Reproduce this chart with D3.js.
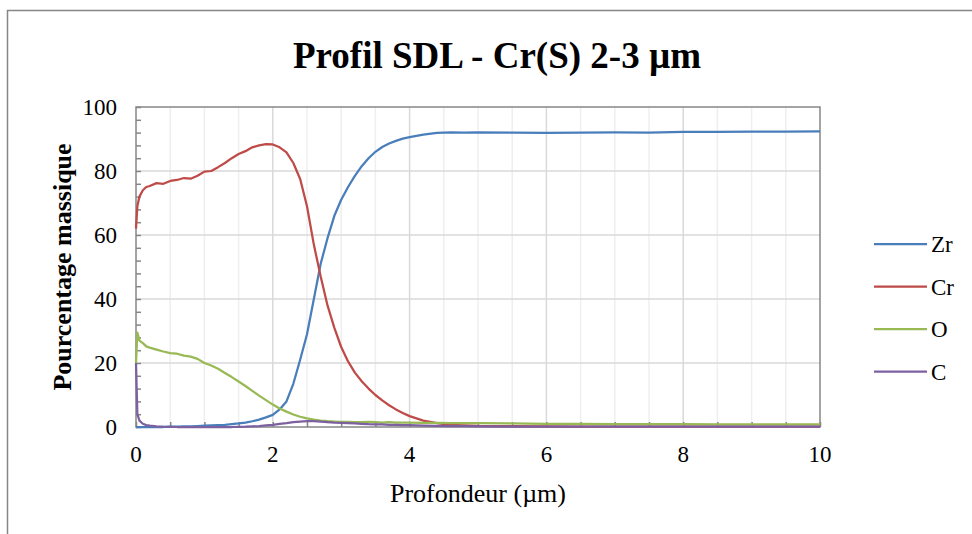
<!DOCTYPE html>
<html><head><meta charset="utf-8">
<script src="https://cdn.jsdelivr.net/npm/d3@7"></script>
<style>body{margin:0;background:#fff}svg{display:block}</style>
</head><body>
<script>
const depth = [0,0.02,0.05,0.1,0.15,0.2,0.3,0.4,0.5,0.6,0.7,0.8,0.9,1.0,1.1,1.2,1.3,1.4,1.5,1.6,1.7,1.8,1.9,2.0,2.1,2.2,2.3,2.4,2.5,2.6,2.7,2.8,2.9,3.0,3.1,3.2,3.3,3.4,3.5,3.6,3.7,3.8,3.9,4.0,4.2,4.4,4.6,4.8,5.0,5.5,6.0,6.5,7.0,7.5,8.0,8.5,9.0,9.5,10.0];
const zr = [0,0,0,0,0,0,0,0,0.1,0.1,0.2,0.2,0.3,0.4,0.5,0.6,0.7,0.9,1.1,1.4,1.8,2.3,3.0,3.8,5.5,8.0,13.5,21,29,40,51,59,66,71,75,78.5,81.5,84,86,87.5,88.6,89.4,90.1,90.6,91.4,91.9,92.1,92.0,92.1,92.0,91.9,92.0,92.1,92.0,92.2,92.2,92.3,92.3,92.4];
const cr = [62,69,72,74,75,75.3,76.2,76.0,76.9,77.2,77.8,77.6,78.5,79.8,80.0,81.2,82.5,84.0,85.3,86.2,87.4,88.0,88.4,88.3,87.4,85.8,82.5,77.5,69,57,47,38,31,25,20.5,17,14.3,12,10,8.3,6.8,5.5,4.4,3.4,2.0,1.2,0.7,0.5,0.35,0.25,0.2,0.15,0.15,0.1,0.1,0.1,0.1,0.1,0.1];
const ox = [20,29.5,27,26.2,25.2,24.8,24.2,23.6,23.1,22.9,22.3,22.0,21.3,20.0,19.2,18.2,16.9,15.6,14.2,12.8,11.3,9.8,8.4,7.0,5.8,4.8,3.9,3.2,2.7,2.3,2.0,1.8,1.7,1.6,1.6,1.5,1.5,1.6,1.5,1.4,1.5,1.4,1.4,1.4,1.3,1.3,1.2,1.2,1.2,1.1,1.0,1.0,0.9,0.9,0.9,0.8,0.8,0.8,0.8];
const cc = [20,4,2,1.0,0.6,0.4,0.2,0.1,0.05,0,0,0,0,0,0,0,0,0,0.05,0.1,0.2,0.3,0.5,0.7,0.95,1.2,1.5,1.7,1.8,1.8,1.7,1.55,1.4,1.3,1.2,1.1,1.0,0.9,0.85,0.8,0.7,0.65,0.6,0.55,0.45,0.35,0.3,0.25,0.2,0.15,0.1,0.1,0.1,0.1,0.1,0.1,0.1,0.1,0.1];
const seriesNames = ["Zr","Cr","O","C"];
const seriesColors = ["#4A7EBB","#BE4B48","#98B954","#7D60A0"];
const seriesValues = [zr, cr, ox, cc];
const xTicks = [0,2,4,6,8,10];
const yTicks = [0,20,40,60,80,100];

const W = 972, H = 534;
const svg = d3.select("body").append("svg").attr("width", W).attr("height", H);
const serif = "'Liberation Serif','Times New Roman',serif";
const grid = "#D9D9D9", axisCol = "#868686";

// outer chart border
svg.append("rect").attr("x", 7.5).attr("y", 10.5).attr("width", 980).attr("height", 560)
  .attr("fill", "none").attr("stroke", axisCol).attr("stroke-width", 1.5);

const L = 136, R = 820, T = 107, B = 427;
const x = d3.scaleLinear().domain([0, 10]).range([L, R]);
const y = d3.scaleLinear().domain([0, 100]).range([B, T]);

// minor vertical gridlines
svg.append("g").selectAll("line").data(d3.range(0.5, 10, 0.5).filter(v => v % 2 !== 0))
  .join("line").attr("x1", d => x(d)).attr("x2", d => x(d)).attr("y1", T).attr("y2", B)
  .attr("stroke", "#EFEFEF").attr("stroke-width", 1.5);
// major vertical gridlines
svg.append("g").selectAll("line").data(xTicks.slice(1, -1))
  .join("line").attr("x1", d => x(d)).attr("x2", d => x(d)).attr("y1", T).attr("y2", B)
  .attr("stroke", grid).attr("stroke-width", 1.5);
// horizontal gridlines
svg.append("g").selectAll("line").data(yTicks.slice(1, -1))
  .join("line").attr("x1", L).attr("x2", R).attr("y1", d => y(d)).attr("y2", d => y(d))
  .attr("stroke", grid).attr("stroke-width", 1.5);

// plot border
svg.append("rect").attr("x", L).attr("y", T).attr("width", R - L).attr("height", B - T)
  .attr("fill", "none").attr("stroke", axisCol).attr("stroke-width", 1.5);

// axes with inward ticks
const yAx = svg.append("g").attr("transform", `translate(${L},0)`)
  .call(d3.axisLeft(y).tickValues(d3.range(0, 101, 4)).tickSize(-5).tickFormat(""));
yAx.select(".domain").remove();
yAx.selectAll("line").attr("stroke", axisCol).attr("stroke-width", 1.5);
const xAx = svg.append("g").attr("transform", `translate(0,${B})`)
  .call(d3.axisBottom(x).tickValues(d3.range(0, 10.01, 0.5)).tickSize(-5).tickFormat(""));
xAx.select(".domain").remove();
xAx.selectAll("line").attr("stroke", axisCol).attr("stroke-width", 1.5);

// tick labels
svg.append("g").selectAll("text").data(yTicks).join("text")
  .attr("x", L - 19).attr("y", d => y(d)).attr("dy", "0.35em").attr("text-anchor", "end")
  .attr("font-family", serif).attr("font-size", 23).text(d => d);
svg.append("g").selectAll("text").data(xTicks).join("text")
  .attr("x", d => x(d)).attr("y", B + 35).attr("text-anchor", "middle")
  .attr("font-family", serif).attr("font-size", 23).text(d => d);

// lines
const line = d3.line().x((d, i) => x(depth[i])).y(d => y(d));
seriesValues.forEach((vals, k) => {
  svg.append("path").datum(vals).attr("d", line).attr("fill", "none")
    .attr("stroke", seriesColors[k]).attr("stroke-width", 2.25).attr("stroke-linejoin", "round");
});

// title
svg.append("text").attr("x", 497).attr("y", 68).attr("text-anchor", "middle")
  .attr("font-family", serif).attr("font-weight", "bold").attr("font-size", 37)
  .text("Profil SDL - Cr(S) 2-3 µm");

// axis titles
svg.append("text").attr("transform", `translate(71,${(T + B) / 2}) rotate(-90)`)
  .attr("text-anchor", "middle").attr("font-family", serif).attr("font-weight", "bold")
  .attr("font-size", 26).text("Pourcentage massique");
svg.append("text").attr("x", 478).attr("y", 502).attr("text-anchor", "middle")
  .attr("font-family", serif).attr("font-size", 26).text("Profondeur (µm)");

// legend
const lg = svg.append("g");
seriesNames.forEach((n, k) => {
  const ly = 244 + k * 42.5;
  lg.append("line").attr("x1", 874).attr("x2", 927).attr("y1", ly).attr("y2", ly)
    .attr("stroke", seriesColors[k]).attr("stroke-width", 2.25);
  lg.append("text").attr("x", 931).attr("y", ly).attr("dy", "0.35em")
    .attr("font-family", serif).attr("font-size", 23).text(n);
});
</script>
</body></html>
